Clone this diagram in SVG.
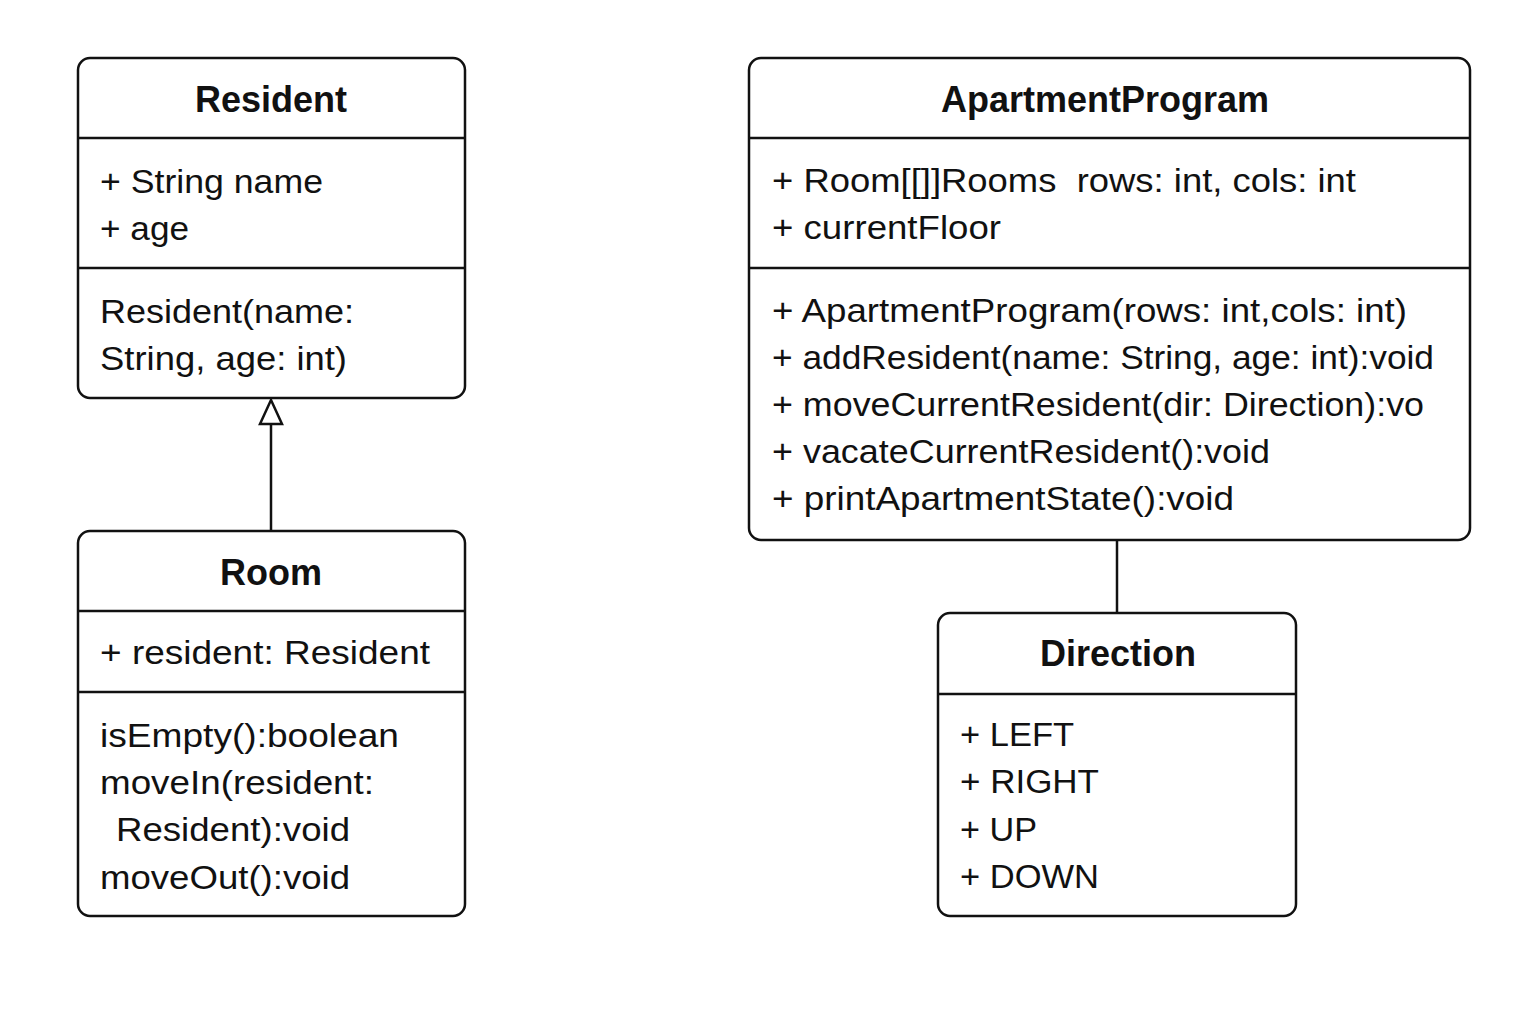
<svg xmlns="http://www.w3.org/2000/svg" width="1536" height="1024" viewBox="0 0 1536 1024">
<style>
.box{fill:#fff;stroke:#111;stroke-width:2.5}
.div{stroke:#111;stroke-width:2.5}
.t{font-family:"Liberation Sans",Arial,sans-serif;font-size:33px;fill:#111}
.h{font-family:"Liberation Sans",Arial,sans-serif;font-size:36px;font-weight:bold;fill:#111;text-anchor:middle}
.c{stroke:#111;stroke-width:2.5;fill:none}
</style>
<rect width="1536" height="1024" fill="#fff"/>
<g id="connectors">
<line class="c" x1="271" y1="530" x2="271" y2="424"/>
<polygon points="271,400 260,424 282,424" fill="#fff" stroke="#111" stroke-width="2.5"/>
<line class="c" x1="1117" y1="540" x2="1117" y2="612"/>
</g>
<g id="Resident">
<rect class="box" x="78" y="58" width="387" height="340" rx="12"/>
<line class="div" x1="78" y1="138" x2="465" y2="138"/>
<line class="div" x1="78" y1="268" x2="465" y2="268"/>
<text class="h" x="271" y="112">Resident</text>
<text class="t" x="100" y="193" textLength="223" lengthAdjust="spacingAndGlyphs">+ String name</text>
<text class="t" x="100" y="240" textLength="89" lengthAdjust="spacingAndGlyphs">+ age</text>
<text class="t" x="100" y="323" textLength="254" lengthAdjust="spacingAndGlyphs">Resident(name:</text>
<text class="t" x="100" y="370" textLength="247" lengthAdjust="spacingAndGlyphs">String, age: int)</text>
</g>
<g id="Room">
<rect class="box" x="78" y="531" width="387" height="385" rx="12"/>
<line class="div" x1="78" y1="611" x2="465" y2="611"/>
<line class="div" x1="78" y1="692" x2="465" y2="692"/>
<text class="h" x="271" y="585">Room</text>
<text class="t" x="100" y="664" textLength="330" lengthAdjust="spacingAndGlyphs">+ resident: Resident</text>
<text class="t" x="100" y="747" textLength="299" lengthAdjust="spacingAndGlyphs">isEmpty():boolean</text>
<text class="t" x="100" y="794" textLength="274" lengthAdjust="spacingAndGlyphs">moveIn(resident:</text>
<text class="t" x="116" y="841" textLength="234" lengthAdjust="spacingAndGlyphs">Resident):void</text>
<text class="t" x="100" y="889" textLength="250" lengthAdjust="spacingAndGlyphs">moveOut():void</text>
</g>
<g id="ApartmentProgram">
<rect class="box" x="749" y="58" width="721" height="482" rx="12"/>
<line class="div" x1="749" y1="138" x2="1470" y2="138"/>
<line class="div" x1="749" y1="268" x2="1470" y2="268"/>
<text class="h" x="1105" y="112">ApartmentProgram</text>
<text class="t" x="772" y="192" textLength="584" lengthAdjust="spacingAndGlyphs" xml:space="preserve" style="white-space:pre">+ Room[[]]Rooms  rows: int, cols: int</text>
<text class="t" x="772" y="239" textLength="229" lengthAdjust="spacingAndGlyphs">+ currentFloor</text>
<text class="t" x="772" y="322" textLength="635" lengthAdjust="spacingAndGlyphs">+ ApartmentProgram(rows: int,cols: int)</text>
<text class="t" x="772" y="369" textLength="662" lengthAdjust="spacingAndGlyphs">+ addResident(name: String, age: int):void</text>
<text class="t" x="772" y="416" textLength="652" lengthAdjust="spacingAndGlyphs">+ moveCurrentResident(dir: Direction):vo</text>
<text class="t" x="772" y="463" textLength="498" lengthAdjust="spacingAndGlyphs">+ vacateCurrentResident():void</text>
<text class="t" x="772" y="510" textLength="462" lengthAdjust="spacingAndGlyphs">+ printApartmentState():void</text>
</g>
<g id="Direction">
<rect class="box" x="938" y="613" width="358" height="303" rx="12"/>
<line class="div" x1="938" y1="694" x2="1296" y2="694"/>
<text class="h" x="1118" y="666">Direction</text>
<text class="t" x="960" y="746" textLength="114" lengthAdjust="spacingAndGlyphs">+ LEFT</text>
<text class="t" x="960" y="793" textLength="139" lengthAdjust="spacingAndGlyphs">+ RIGHT</text>
<text class="t" x="960" y="841" textLength="77" lengthAdjust="spacingAndGlyphs">+ UP</text>
<text class="t" x="960" y="888" textLength="139" lengthAdjust="spacingAndGlyphs">+ DOWN</text>
</g>
</svg>
